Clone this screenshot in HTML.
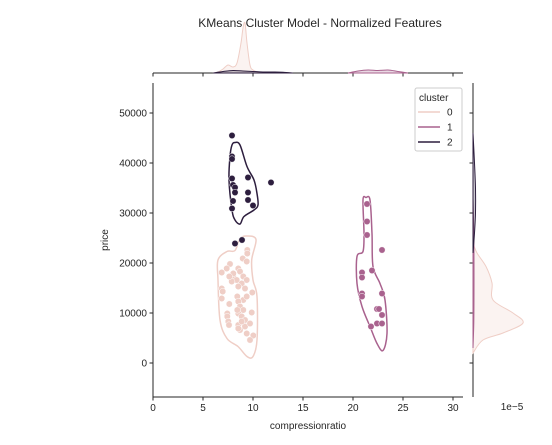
<!DOCTYPE html>
<html><head><meta charset="utf-8"><style>
body{margin:0;background:#fff}
svg text{font-family:"Liberation Sans","DejaVu Sans",sans-serif;fill:#262626}
</style></head><body>
<svg id="c" width="552" height="440" viewBox="0 0 552 440" xmlns="http://www.w3.org/2000/svg">
<text x="320" y="27" font-size="12" text-anchor="middle">KMeans Cluster Model - Normalized Features</text>
<text x="308" y="429" font-size="10" text-anchor="middle">compressionratio</text>
<text x="108" y="240" font-size="10" text-anchor="middle" transform="rotate(-90 108 240)">price</text>
<text x="512" y="410" font-size="10" text-anchor="middle">1e−5</text>
<g id="g"></g>
</svg>
<script>
const xTicks=[0,5,10,15,20,25,30];
const yTicks=[0,10000,20000,30000,40000,50000];
const c0x=[9.43,9.43,7.7,7.37,6.87,8.53,8.7,8.03,8.37,9.03,9.37,8.87,7.87,8.53,9.2,6.87,6.97,9.93,8.43,9.03,9.37,6.87,7.63,8.53,8.7,9.03,9.87,7.43,7.43,8.53,8.87,9.2,7.53,7.6,8.53,9.2,9.7,8.7,9.37,10.03,9.7,8.53,8.87,8.43,8.03,7.63,8.97,9.37];
const c0y=[22600,21900,19800,18900,18100,18900,18300,17300,16600,17300,16600,15900,16300,15300,14900,14900,14300,14100,13300,12600,13300,12900,11800,12300,11300,10600,10100,9900,9300,9900,9300,8600,8300,7600,7600,7300,7900,6600,5900,5500,4600,6900,8300,10600,17900,17300,20900,20300];
const c1x=[21.4,21.4,21.4,22.9,21.9,20.9,20.9,20.9,20.9,22.9,22.4,22.6,22.9,22.4,22.9,21.8];
const c1y=[31800,28300,25600,22600,18500,18100,17100,13900,13300,13900,10800,10800,9600,7900,7900,7300];
const c2x=[7.9,7.9,7.9,7.9,9.5,11.8,8.0,8.2,8.2,9.5,9.5,8.0,10.0,7.9,8.2,8.9];
const c2y=[45500,41300,40800,36900,37100,36100,35600,35100,34100,34100,32600,32400,31500,30900,23900,24600];
const k0x=[9.37,10.3,9.87,10.0,10.4,10.4,10.0,9.4,8.5,7.4,6.7,6.5,6.5,7.4,8.2,8.7];
const k0y=[25400,24700,20600,16600,13300,4600,1300,1300,3300,4900,8600,16600,20600,22300,22500,24900];
const k1x=[21.3,21.7,21.9,22.0,22.7,23.2,23.4,23.0,22.4,21.7,20.9,20.4,20.4,21.0,21.1,21.0];
const k1y=[33100,32600,25900,19300,15900,12600,5900,2500,3900,7300,11300,15900,21300,22300,25900,32600];
const k2x=[8.2,8.7,9.4,10.1,10.4,10.5,10.1,9.1,8.7,8.2,7.9,7.6,7.7,7.9];
const k2y=[44100,43600,39300,36600,33900,31600,30600,29300,27800,28600,30600,36600,41300,43600];
const mx0=[6,6.5,7,7.5,8,8.4,8.8,9.0,9.2,9.4,9.7,10,10.5,11];
const md0=[0,1,4,8,6,10,30,45,50,30,8,3,1,0];
const mx1=[19.5,20.5,21.5,22.5,23.5,24.5,25.5];
const md1=[0,2,3,2.5,3,1.5,0];
const mx2=[6,7,8,9,10,11,12,13,14];
const md2=[0,1.5,2.5,2,1.5,1,1,0.8,0];
const my0=[2000,4600,6000,8000,10000,12600,16000,19300,22000,24000];
const mw0=[0,10,30,50,40,20,19,13,4,0];
const my1=[3000,8000,14000,20000,26000,33000];
const mw1=[0,0.8,1,1,0.8,0];
const my2=[22000,26000,30000,35000,40000,46000];
const mw2=[0,1.5,2.5,2.5,1.5,0];

const X=v=>153+v*10, Y=v=>363-v/200;
const L=153,R=463,T=83,B=397;
const col=['#efcec6','#a9628e','#2d1e3e'];
const g=document.getElementById('g');
function el(t,a){const e=document.createElementNS('http://www.w3.org/2000/svg',t);for(const k in a)e.setAttribute(k,a[k]);g.appendChild(e);return e;}
function smooth(px,py,closed){const n=px.length;let d='M'+px[0]+','+py[0];
 const P=i=>closed?[(px[(i+n)%n]),(py[(i+n)%n])]:[px[Math.max(0,Math.min(n-1,i))],py[Math.max(0,Math.min(n-1,i))]];
 const m=closed?n:n-1;
 for(let i=0;i<m;i++){const p0=P(i-1),p1=P(i),p2=P(i+1),p3=P(i+2);
  d+=' C'+(p1[0]+(p2[0]-p0[0])/6)+','+(p1[1]+(p2[1]-p0[1])/6)+' '+(p2[0]-(p3[0]-p1[0])/6)+','+(p2[1]-(p3[1]-p1[1])/6)+' '+p2[0]+','+p2[1];}
 return d+(closed?'Z':'');}
// spines & ticks
let s=el('line',{x1:L,y1:T,x2:L,y2:B,stroke:'#262626','stroke-width':1});

s=el('line',{x1:L,y1:B,x2:R,y2:B,stroke:'#262626','stroke-width':1});

s=el('line',{x1:L,y1:73,x2:R,y2:73,stroke:'#262626','stroke-width':1});

s=el('line',{x1:473,y1:T,x2:473,y2:B,stroke:'#262626','stroke-width':1});

xTicks.forEach(v=>{
 el('line',{x1:X(v),y1:B,x2:X(v),y2:B+3.5,stroke:'#262626'});
 el('line',{x1:X(v),y1:73,x2:X(v),y2:76.5,stroke:'#262626'});
 const t=el('text',{x:X(v),y:B+14,'font-size':10,'text-anchor':'middle'});t.textContent=v;
 });
yTicks.forEach(v=>{
 el('line',{x1:L-3.5,y1:Y(v),x2:L,y2:Y(v),stroke:'#262626'});
 el('line',{x1:469.5,y1:Y(v),x2:473,y2:Y(v),stroke:'#262626'});
 const t=el('text',{x:L-6,y:Y(v)+3.5,'font-size':10,'text-anchor':'end'});t.textContent=v;
 });
// marginal top
function topK(xs,ds,c,name){const px=xs.map(X),py=ds.map(d=>73-d);
 const d=smooth(px,py,false);
 const p=el('path',{d:d+' L'+px[px.length-1]+',73 L'+px[0]+',73Z',fill:c,'fill-opacity':0.25,stroke:c,'stroke-width':1});
 }
topK(mx0,md0,col[0],'top-kde-cluster-0');topK(mx1,md1,col[1],'top-kde-cluster-1');topK(mx2,md2,col[2],'top-kde-cluster-2');
function rightK(ys,ws,c,name){const py=ys.map(Y),px=ws.map(w=>473+w);
 const d=smooth(px,py,false);
 const p=el('path',{d:d+' L473,'+py[py.length-1]+' L473,'+py[0]+'Z',fill:c,'fill-opacity':0.25,stroke:c,'stroke-width':1});
 }
rightK(my0,mw0,col[0],'right-kde-cluster-0');rightK(my1,mw1,col[1],'right-kde-cluster-1');rightK(my2,mw2,col[2],'right-kde-cluster-2');
// contours
[[k0x,k0y],[k1x,k1y],[k2x,k2y]].forEach((k,i)=>{
 const p=el('path',{d:smooth(k[0].map(X),k[1].map(Y),true),fill:'none',stroke:col[i],'stroke-width':1.5});
 });
// points
[[c0x,c0y],[c1x,c1y],[c2x,c2y]].forEach((k,i)=>{
 k[0].forEach((v,j)=>{const p=el('circle',{cx:X(v),cy:Y(k[1][j]),r:3.2,fill:col[i],stroke:'#fff','stroke-width':0.5});
 });});
// legend
const lg=el('rect',{x:415,y:88,width:47,height:63,rx:2,fill:'#fff','fill-opacity':0.8,stroke:'#ccc'});

let lt=el('text',{x:419,y:101,'font-size':10});lt.textContent='cluster';

['0','1','2'].forEach((n,i)=>{const y=112+i*15;
 const ln=el('line',{x1:418,y1:y,x2:440,y2:y,stroke:col[i],'stroke-width':1.5});
 
 const t=el('text',{x:447,y:y+3.5,'font-size':10});t.textContent=n;
 });
</script>
</body></html>
